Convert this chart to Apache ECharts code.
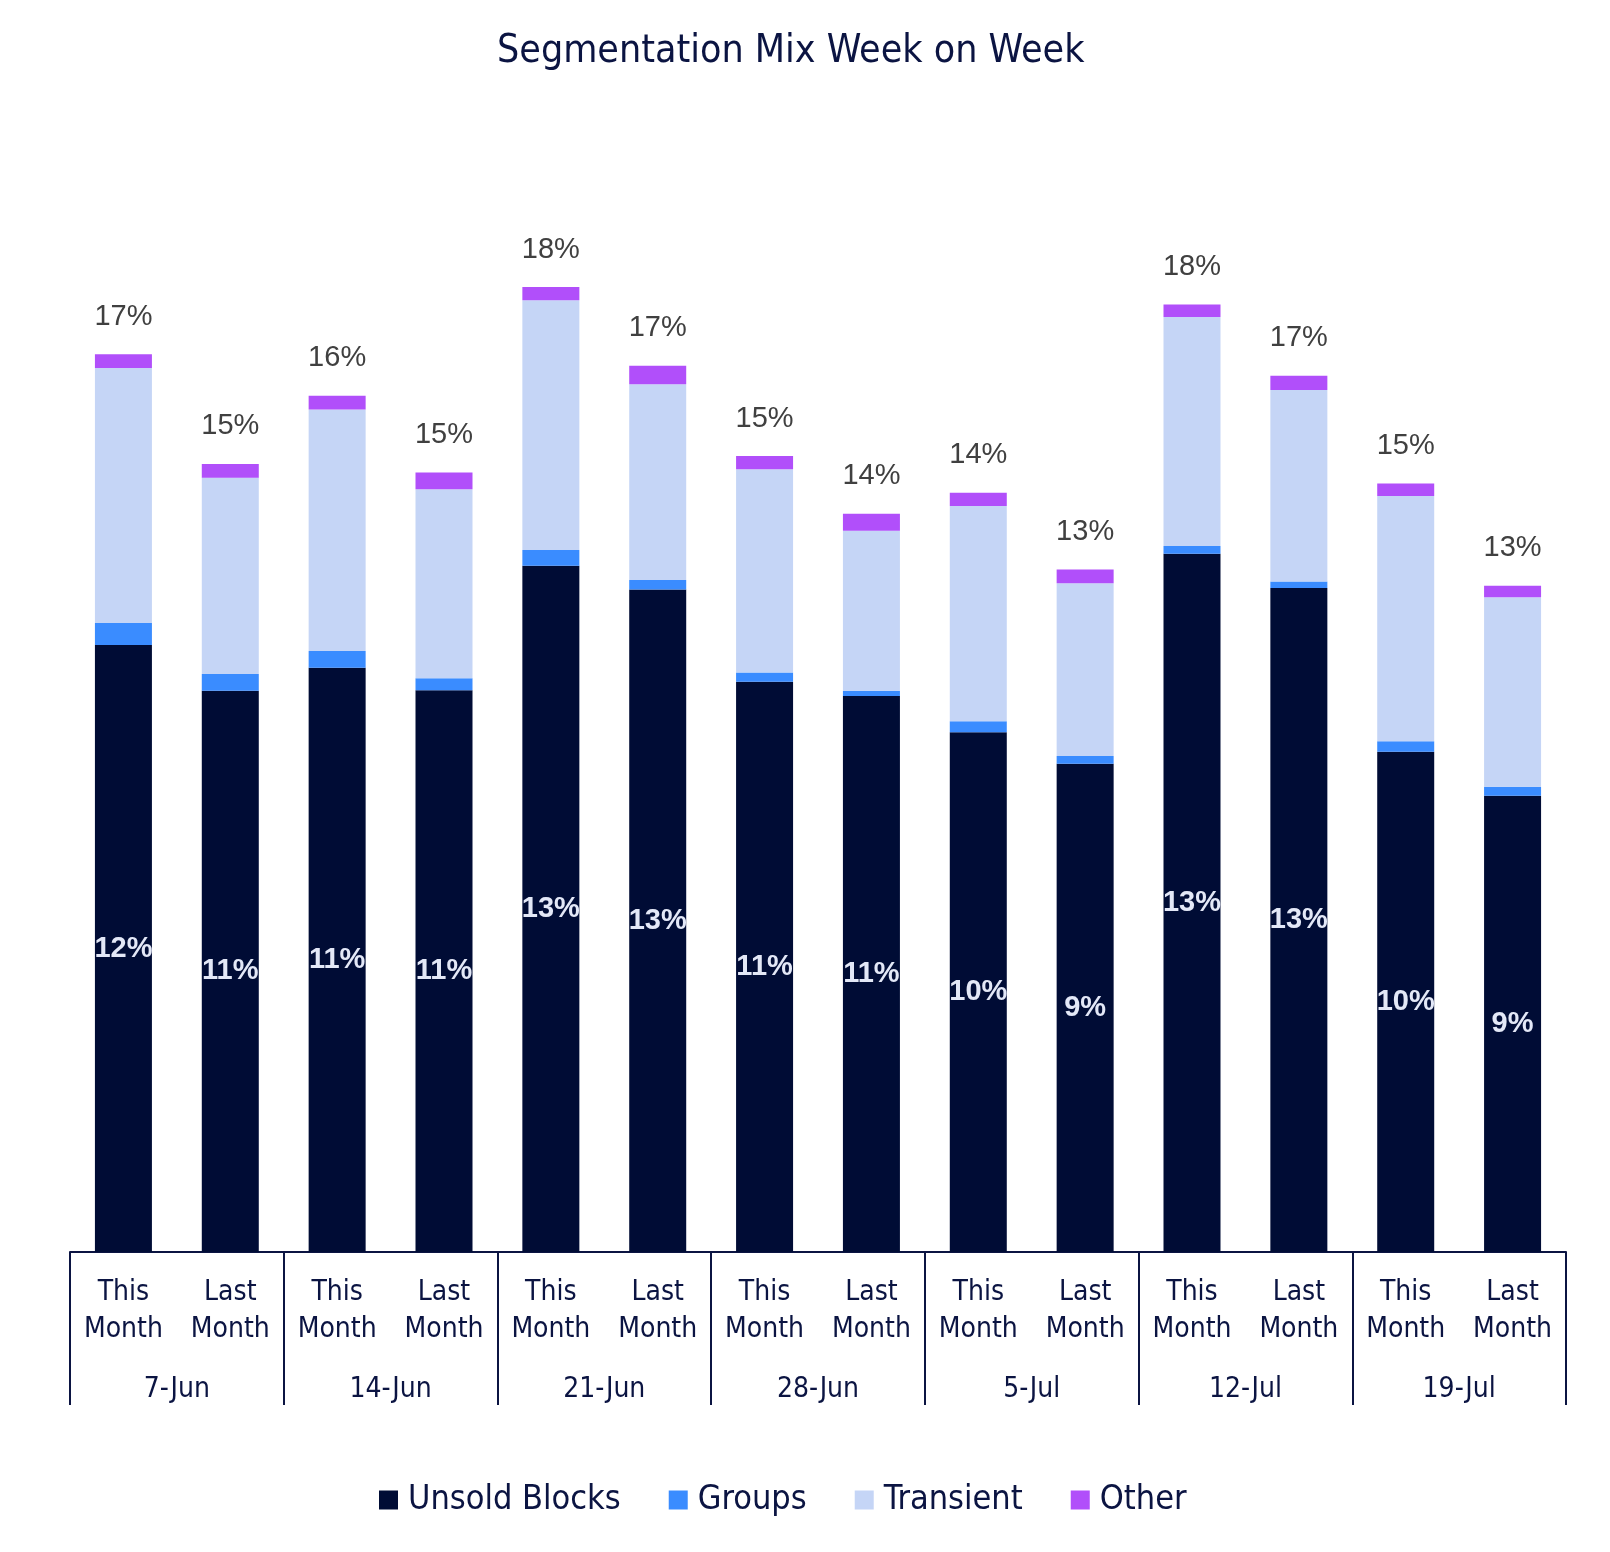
<!DOCTYPE html>
<html>
<head>
<meta charset="utf-8">
<title>Segmentation Mix Week on Week</title>
<script src="https://cdn.jsdelivr.net/npm/echarts@6/dist/echarts.min.js"></script>
<style>
    html, body { margin: 0; padding: 0; background: #fff; }
    #segChart { width: 1610px; height: 1552px; }
</style>
</head>
<body>
<div id="segChart"></div>
<script>
    // weeks and the two bars inside each week
    const weeks = ['7-Jun', '14-Jun', '21-Jun', '28-Jun', '5-Jul', '12-Jul', '19-Jul'];
    const periods = ['This\nMonth', 'Last\nMonth'];

    // share of rooms, in %
    const unsold = [11.56, 10.69, 11.13, 10.70, 13.07, 12.62, 10.86, 10.59, 9.90, 9.30, 13.30, 12.65, 9.53, 8.69];
    const groups = [0.42, 0.32, 0.32, 0.23, 0.30, 0.18, 0.18, 0.10, 0.21, 0.15, 0.15, 0.12, 0.20, 0.17];
    const transient = [4.86, 3.74, 4.60, 3.60, 4.76, 3.73, 3.87, 3.05, 4.10, 3.29, 4.36, 3.65, 4.67, 3.61];
    const other = [0.26, 0.26, 0.26, 0.32, 0.25, 0.35, 0.25, 0.32, 0.25, 0.26, 0.24, 0.27, 0.24, 0.22];

    const categories = [];
    weeks.forEach(function () {
        periods.forEach(function (p) { categories.push(p); });
    });
    const totals = unsold.map(function (v, i) {
        return v + groups[i] + transient[i] + other[i];
    });

    const narrow = "'Liberation Sans Narrow', 'DejaVu Sans Condensed', 'Liberation Sans', sans-serif";
    const navy = '#0b1442';

    let chart = echarts.init(document.getElementById('segChart'));
    const option = {
        animation: false,
        title: {
            text: 'Segmentation Mix Week on Week',
            left: 492,
            top: 27,
            textStyle: {
                fontFamily: narrow,
                fontSize: 39,
                fontWeight: 'normal',
                color: navy
            }
        },
        legend: {
            top: 1478,
            left: 374,
            icon: 'rect',
            itemWidth: 19,
            itemHeight: 19,
            itemGap: 48,
            textStyle: {
                fontFamily: narrow,
                fontSize: 34,
                color: navy,
                padding: [0, 0, 0, 5]
            },
            data: ['Unsold Blocks', 'Groups', 'Transient', 'Other']
        },
        grid: {
            left: 70,
            right: 44,
            top: 202,
            bottom: 300,
            containLabel: false
        },
        xAxis: [
            {
                type: 'category',
                data: categories,
                axisLine: {
                    lineStyle: { color: navy, width: 2 }
                },
                axisTick: { show: false },
                axisLabel: {
                    interval: 0,
                    margin: 22,
                    fontFamily: narrow,
                    fontSize: 28,
                    lineHeight: 37,
                    color: navy
                }
            },
            {
                type: 'category',
                position: 'bottom',
                data: weeks,
                axisLine: { show: false },
                axisTick: {
                    show: true,
                    interval: 0,
                    length: 153,
                    lineStyle: { color: navy, width: 2 }
                },
                axisLabel: {
                    interval: 0,
                    margin: 119,
                    fontFamily: narrow,
                    fontSize: 28,
                    lineHeight: 37,
                    color: navy
                }
            }
        ],
        yAxis: {
            type: 'value',
            min: 0,
            max: 20,
            show: false
        },
        series: [
            {
                name: 'Unsold Blocks',
                type: 'bar',
                stack: 'mix',
                barWidth: 57,
                data: unsold,
                itemStyle: { color: '#000c35' },
                label: {
                    show: true,
                    position: 'inside',
                    formatter: function (p) { return Math.round(p.value) + '%'; },
                    fontFamily: "'Liberation Sans', Arial, sans-serif",
                    fontWeight: 'bold',
                    fontSize: 29,
                    color: '#e3e8f7'
                }
            },
            {
                name: 'Groups',
                type: 'bar',
                stack: 'mix',
                data: groups,
                itemStyle: { color: '#3a8cff' }
            },
            {
                name: 'Transient',
                type: 'bar',
                stack: 'mix',
                data: transient,
                itemStyle: { color: '#c5d5f6' }
            },
            {
                name: 'Other',
                type: 'bar',
                stack: 'mix',
                data: other,
                itemStyle: { color: '#b14ffa' },
                label: {
                    show: true,
                    position: 'top',
                    distance: 23,
                    // label of the whole stack sits on the top segment
                    formatter: function (p) { return Math.round(totals[p.dataIndex]) + '%'; },
                    fontFamily: "'Liberation Sans', Arial, sans-serif",
                    fontSize: 29,
                    color: '#404040'
                }
            }
        ]
    };

    chart.setOption(option);

    window.addEventListener('resize', function () {
        chart.resize();
    });
</script>
</body>
</html>
